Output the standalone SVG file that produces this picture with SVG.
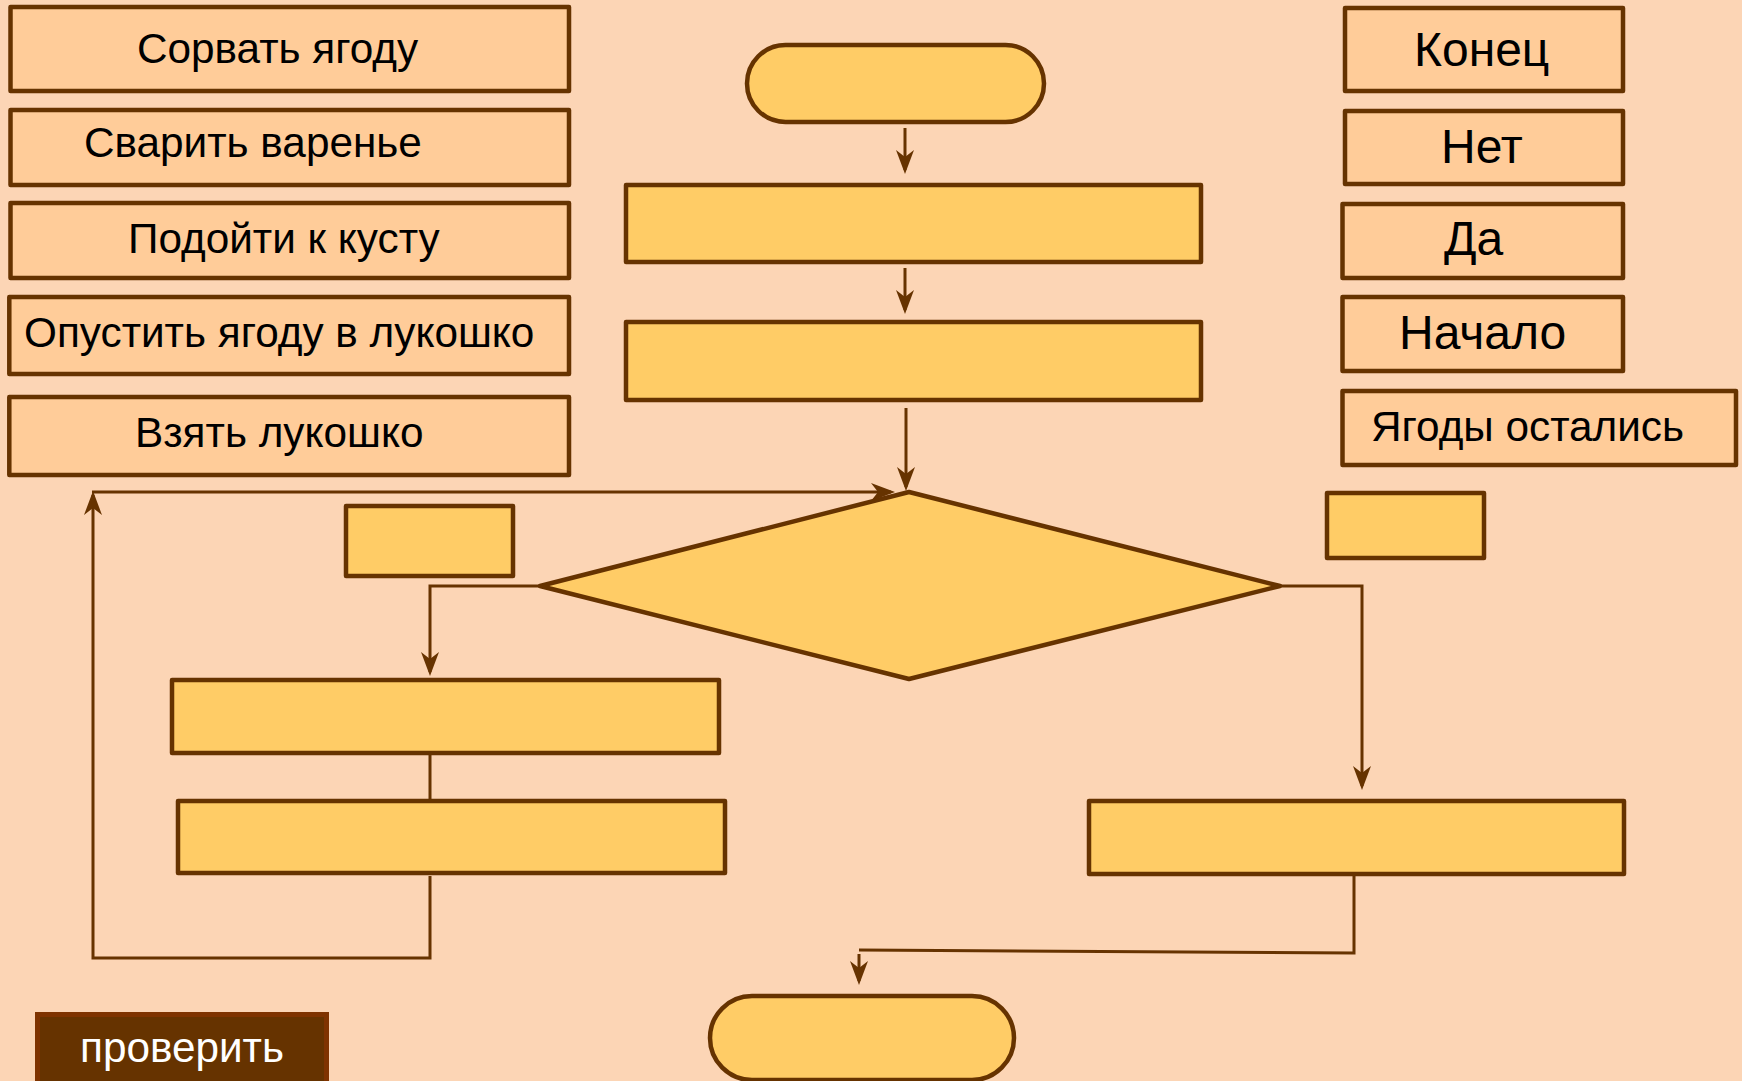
<svg xmlns="http://www.w3.org/2000/svg" width="1742" height="1081" viewBox="0 0 1742 1081">
<defs>
<style>
.lbl{fill:#FFCC99;stroke:#663300;stroke-width:4.5;stroke-linejoin:round}
.shp{fill:#FFCC66;stroke:#663300;stroke-width:4.5;stroke-linejoin:round}
.t{font-family:"Liberation Sans",Arial,sans-serif;fill:#000}
.ts{font-size:42.3px}
.tb{font-size:48px}
.con{fill:none;stroke:#663300;stroke-width:3}
</style>
<marker id="ah" viewBox="-21 -10 26 20" refX="0" refY="0" markerWidth="26" markerHeight="20" markerUnits="userSpaceOnUse" orient="auto">
<path d="M4,0 L-20,-9 L-13,0 L-20,9 Z" fill="#663300"/>
</marker>
</defs>
<rect x="0" y="0" width="1742" height="1081" fill="#FCD5B5"/>

<g id="connectors">
<line class="con" x1="905" y1="128" x2="905" y2="170" marker-end="url(#ah)"/>
<line class="con" x1="905" y1="268" x2="905" y2="310" marker-end="url(#ah)"/>
<line class="con" x1="906" y1="408" x2="906" y2="487" marker-end="url(#ah)"/>
<polyline class="con" points="430,876 430,958 93,958 93,495" marker-end="url(#ah)"/>
<line class="con" x1="92" y1="492" x2="891" y2="492" marker-end="url(#ah)"/>
<polyline class="con" points="540,586 430,586 430,672" marker-end="url(#ah)"/>
<line class="con" x1="430" y1="754" x2="430" y2="801"/>
<polyline class="con" points="1281,586 1362,586 1362,786" marker-end="url(#ah)"/>
<polyline class="con" points="1354,876 1354,953 859,950"/>
<line class="con" x1="859" y1="954" x2="859" y2="981" marker-end="url(#ah)"/>
</g>

<g id="label-sorvat"><rect class="lbl" x="10.5" y="7" width="558.5" height="84"/><text class="t ts" x="137" y="63">Сорвать ягоду</text></g>
<g id="label-svarit"><rect class="lbl" x="10.5" y="110" width="558.5" height="75"/><text class="t ts" x="84" y="157">Сварить варенье</text></g>
<g id="label-podoiti"><rect class="lbl" x="10.5" y="203" width="558.5" height="75"/><text class="t ts" x="128" y="253">Подойти к кусту</text></g>
<g id="label-opustit"><rect class="lbl" x="9.3" y="297" width="559.7" height="77"/><text class="t ts" x="24" y="347">Опустить ягоду в лукошко</text></g>
<g id="label-vzyat"><rect class="lbl" x="9.3" y="397" width="559.7" height="78"/><text class="t ts" x="135" y="447">Взять лукошко</text></g>

<g id="label-konets"><rect class="lbl" x="1345" y="8" width="278" height="83"/><text class="t tb" x="1414" y="66">Конец</text></g>
<g id="label-net"><rect class="lbl" x="1345" y="111" width="278" height="73"/><text class="t tb" x="1441" y="163">Нет</text></g>
<g id="label-da"><rect class="lbl" x="1342.5" y="204" width="280.5" height="74"/><text class="t tb" x="1444" y="255">Да</text></g>
<g id="label-nachalo"><rect class="lbl" x="1342.5" y="297" width="280.5" height="74"/><text class="t tb" x="1399" y="349">Начало</text></g>
<g id="label-yagody"><rect class="lbl" x="1342.5" y="391" width="393.5" height="74"/><text class="t ts" x="1371" y="441">Ягоды остались</text></g>

<g id="start"><rect class="shp" x="747" y="45" width="297" height="77" rx="38.5"/></g>
<g id="step1"><rect class="shp" x="626" y="185" width="575" height="77"/></g>
<g id="step2"><rect class="shp" x="626" y="322" width="575" height="78"/></g>
<g id="decision"><polygon class="shp" points="909,492 1280,586 909,679 540,586"/></g>
<g id="branch-left-label"><rect class="shp" x="346" y="506" width="167" height="70"/></g>
<g id="branch-right-label"><rect class="shp" x="1327" y="493" width="157" height="65"/></g>
<g id="left-step1"><rect class="shp" x="172" y="680" width="547" height="73"/></g>
<g id="left-step2"><rect class="shp" x="178" y="801" width="547" height="72"/></g>
<g id="right-step"><rect class="shp" x="1089" y="801" width="535" height="73"/></g>
<g id="end"><rect class="shp" x="710" y="996" width="304" height="84" rx="42"/></g>

<g id="check-button">
<rect x="37.5" y="1014.5" width="289" height="80" fill="#663300" stroke="#7F3300" stroke-width="5"/>
<text class="t ts" x="80" y="1062" style="fill:#FFFFFF">проверить</text>
</g>
</svg>
